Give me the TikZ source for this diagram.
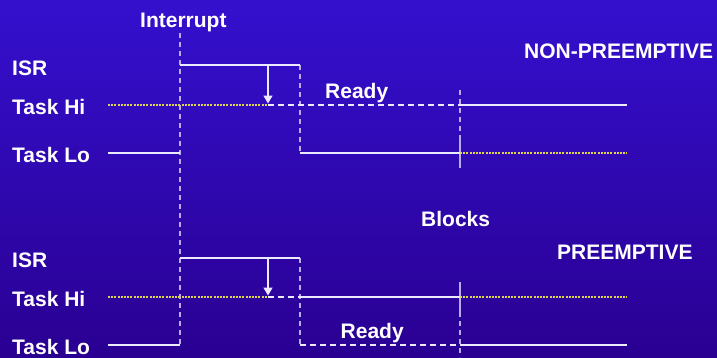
\documentclass[tikz,border=0pt]{standalone}
\usepackage{fontspec}
\setmainfont{Liberation Sans}
\usetikzlibrary{arrows.meta}
\definecolor{bgtop}{RGB}{52,16,206}
\definecolor{bgbot}{RGB}{42,0,146}
\definecolor{trace}{RGB}{236,234,255}
\definecolor{edgecol}{RGB}{182,172,238}
\definecolor{idlecol}{RGB}{222,214,70}
\begin{document}
\begin{tikzpicture}[x=1pt,y=-1pt,
  lbl/.style={text=white,font=\bfseries\fontsize{21}{25}\selectfont,inner sep=0pt,anchor=base west},
  run/.style={draw=trace,line width=1.6pt},
  ready/.style={draw=trace,line width=1.6pt,dash pattern=on 6pt off 4pt},
  idle/.style={draw=idlecol,line width=1.5pt,dash pattern=on 2pt off 1.2pt},
  edge/.style={draw=edgecol,line width=2pt},
  dedge/.style={draw=edgecol,line width=2pt,dash pattern=on 5pt off 4pt},
  wake/.style={draw=trace,line width=1.6pt,shorten >=1.5pt,-{Triangle[width=9pt,length=8pt]}}
]
% background
\shade[top color=bgtop,bottom color=bgbot] (0,0) rectangle (717,357);
\useasboundingbox (0,0) rectangle (717,357);

% labels
\node[lbl] (intr) at (140,27.5) {Interrupt};
\node[lbl] (nonpre) at (524,58.5) {NON-PREEMPTIVE};
\node[lbl] (isr1) at (12,75) {ISR};
\node[lbl] (hi1) at (12,114.3) {Task Hi};
\node[lbl] (lo1) at (12,162.7) {Task Lo};
\node[lbl] (rdy1) at (325,98.5) {Ready};
\node[lbl] (blk) at (421,226.5) {Blocks};
\node[lbl] (pre) at (557,259) {PREEMPTIVE};
\node[lbl] (isr2) at (12,267.5) {ISR};
\node[lbl] (hi2) at (12,306.5) {Task Hi};
\node[lbl] (lo2) at (12,354.2) {Task Lo};
\node[lbl] (rdy2) at (340.5,338.5) {Ready};

% time marks: interrupt and blocking instants
\coordinate (intT) at (180,33);
\coordinate (intB) at (180,345);
\coordinate (b1T) at (460,90);
\coordinate (b1M) at (460,136);
\coordinate (b1B) at (460,168);
\coordinate (b2T) at (460,282);
\coordinate (b2M) at (460,312);
\coordinate (b2B) at (460,357);

% non-preemptive traces
\coordinate (i1a) at (180,65);
\coordinate (i1w) at (268,65);
\coordinate (i1b) at (300,65);
\coordinate (h1a) at (108,105);
\coordinate (h1w) at (268,105);
\coordinate (h1c) at (460,105);
\coordinate (h1d) at (627,105);
\coordinate (l1a) at (108,153);
\coordinate (l1b) at (180,153);
\coordinate (l1c) at (300,153);
\coordinate (l1d) at (460,153);
\coordinate (l1e) at (627,153);

% preemptive traces
\coordinate (i2a) at (180,258);
\coordinate (i2w) at (268,258);
\coordinate (i2b) at (300,258);
\coordinate (h2a) at (108,297);
\coordinate (h2w) at (268,297);
\coordinate (h2c) at (300,297);
\coordinate (h2d) at (460,297);
\coordinate (h2e) at (627,297);
\coordinate (l2a) at (108,345);
\coordinate (l2b) at (180,345);
\coordinate (l2c) at (300,345);
\coordinate (l2d) at (460,345);
\coordinate (l2e) at (627,345);

% vertical marks
\draw[dedge] (intT) -- (intB);
\draw[dedge] (b1T) -- (b1M);
\draw[edge] (b1M) -- (b1B);
\draw[edge] (b2T) -- (b2M);
\draw[dedge] (b2M) -- (b2B);
\draw[dedge] (i1b) -- (l1c);
\draw[dedge] (i2b) -- (l2c);

% non-preemptive
\draw[run] (i1a) -- (i1b);
\draw[idle] (h1a) -- (h1w);
\draw[ready] (h1w) -- (h1c);
\draw[run] (h1c) -- (h1d);
\draw[run] (l1a) -- (l1b);
\draw[run] (l1c) -- (l1d);
\draw[idle] (l1d) -- (l1e);
\draw[wake] (i1w) -- (h1w);

% preemptive
\draw[run] (i2a) -- (i2b);
\draw[idle] (h2a) -- (h2w);
\draw[ready] (h2w) -- (h2c);
\draw[run] (h2c) -- (h2d);
\draw[idle] (h2d) -- (h2e);
\draw[run] (l2a) -- (l2b);
\draw[ready] (l2c) -- (l2d);
\draw[run] (l2d) -- (l2e);
\draw[wake] (i2w) -- (h2w);
\end{tikzpicture}
\end{document}
